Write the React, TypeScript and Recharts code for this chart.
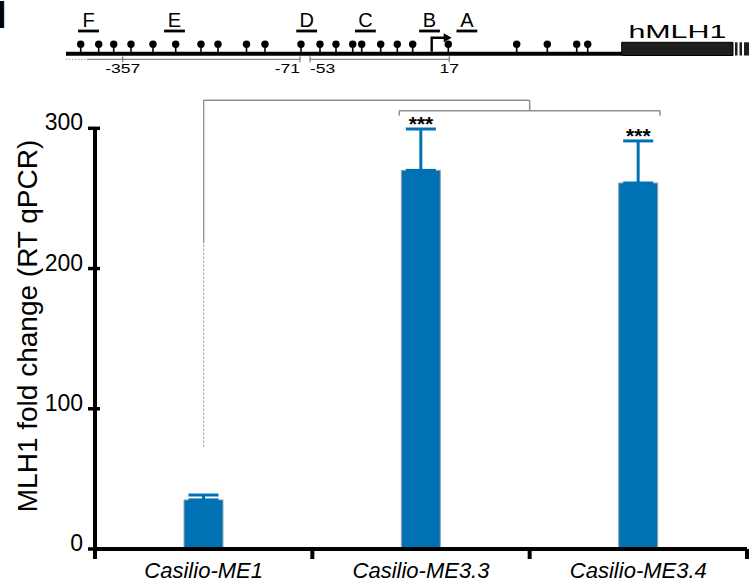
import React from "react";
import {
  BarChart, Bar, XAxis, YAxis, ErrorBar, ReferenceLine, ReferenceDot, ReferenceArea,
  Customized, ScatterChart, Scatter,
} from "recharts";

const FONT = "Arial, 'Liberation Sans', Helvetica, sans-serif";
const BLUE = "#0071B3";
const GRAY = "#8f8f8f";

// --- bar chart values ---
const groups = ["Casilio-ME1", "Casilio-ME3.3", "Casilio-ME3.4"];
const foldChange = [35, 270, 261];
const sem = [3.5, 29.5, 30];
const significance = ["", "***", "***"];
const yTicks = [0, 100, 200, 300];

// comparison brackets, x in category slots (slot i spans i..i+1)
const outerFrom = 0.5;
const outerTo = 2.0;
const outerLevel = 320;
const outerEnd = 313;
const outerSolidTo = 218;
const outerDashTo = 73;
const innerFrom = 1.4;
const innerTo = 2.6;
const innerLevel = 312.6;
const innerEnd = 309;

// --- promoter map (x = place along the drawn map) ---
const cpgSites = [
  80.7, 98.7, 113.7, 131, 153, 175.7, 201, 218, 246.5, 265, 301, 320, 336,
  352.7, 361.7, 380.7, 397.3, 412.7, 448.3, 516.7, 547.3, 576.7, 587.7,
];
const regionNames = ["F", "E", "D", "C", "B", "A"];
const regionPos = [88.5, 174.5, 306.7, 365.4, 429.5, 466.9];
const scaleLabels = ["-357", "-71", "-53", "17"];
const scalePos = [122.7, 300, 310, 449.3];
const scaleAnchor = ["middle", "end", "start", "middle"];
const scaleSegments = [[87, 300], [310, 449.3]];
const mapStart = 66;
const tssPos = 431.7;
const geneName = "hMLH1";
const geneStart = 621.7;
const geneEnd = 733;
const exonStripes = [[735, 737.5], [739.5, 742], [744, 749]];

// layout rows of the map (px from the top)
const Y_LETTER = 27.3;
const Y_HEAD = 44.3;
const Y_LINE = 53.7;
const Y_SCALE = 59.3;
const Y_SCALE_TEXT = 73.3;

const barData = groups.map((g, i) => ({
  group: g,
  slot: i + 0.5,
  value: foldChange[i],
  err: [0, sem[i]],
}));

function CategoryTick(props: any) {
  const { x, y, payload } = props;
  const half = payload.offset ?? 0;
  const idx = props.index ?? payload.index;
  return (
    <g>
      <text x={x} y={y + 29} textAnchor="middle" fontStyle="italic" fontSize={22} fontFamily={FONT} fill="#000">
        {payload.value}
      </text>
      <line x1={x + half} x2={x + half} y1={y} y2={y + 10} stroke="#000" strokeWidth={4} />
      {idx === 0 && <line x1={x - half} x2={x - half} y1={y - 2} y2={y + 10} stroke="#000" strokeWidth={4} />}
    </g>
  );
}

function ValueTick(props: any) {
  const { x, y, payload } = props;
  return (
    <g>
      <line x1={x - 7} x2={x + 5} y1={y} y2={y} stroke="#000" strokeWidth={3.5} />
      <text x={x - 12} y={y + 2} textAnchor="end" fontSize={23} fontFamily={FONT} fill="#000">
        {payload.value}
      </text>
    </g>
  );
}

function PromoterMap() {
  const sites = cpgSites.map((p) => ({ pos: p, y: Y_HEAD }));
  const regions = regionNames.map((n, i) => ({ pos: regionPos[i], y: Y_LETTER, name: n }));
  const scale = scaleLabels.map((l, i) => ({ pos: scalePos[i], y: Y_SCALE_TEXT, name: l, anchor: scaleAnchor[i] }));
  return (
    <ScatterChart width={749} height={90} margin={{ top: 0, right: 0, bottom: 0, left: 0 }}>
      <XAxis type="number" dataKey="pos" domain={[0, 749]} hide allowDataOverflow />
      <YAxis type="number" dataKey="y" domain={[0, 90]} reversed hide allowDataOverflow />
      <Customized
        component={() => (
          <text x={-4} y={28} fontSize={38} fontWeight="bold" fontFamily={FONT} fill="#000">I</text>
        )}
      />
      {/* scale bars under the map */}
      <ReferenceLine segment={[{ x: mapStart, y: Y_SCALE }, { x: scaleSegments[0][0], y: Y_SCALE }]}
        stroke="#999" strokeWidth={1} strokeDasharray="1.5 1.5" ifOverflow="visible" />
      {scaleSegments.map((s, i) => (
        <ReferenceLine key={"s" + i} segment={[{ x: s[0], y: Y_SCALE }, { x: s[1], y: Y_SCALE }]}
          stroke="#888" strokeWidth={1.2} ifOverflow="visible" />
      ))}
      {scalePos.map((p, i) => (
        <ReferenceLine key={"t" + i} segment={[{ x: p, y: Y_SCALE - 3 }, { x: p, y: Y_SCALE + 3 }]}
          stroke="#777" strokeWidth={1.2} ifOverflow="visible" />
      ))}
      {/* promoter line and gene */}
      <ReferenceLine segment={[{ x: mapStart, y: Y_LINE }, { x: geneStart, y: Y_LINE }]}
        stroke="#000" strokeWidth={4} ifOverflow="visible" />
      <ReferenceArea x1={geneStart} x2={geneEnd} y1={42.3} y2={55.5} fill="#1e1e1e" fillOpacity={1} stroke="#000" ifOverflow="visible" />
      {exonStripes.map((e, i) => (
        <ReferenceArea key={"e" + i} x1={e[0]} x2={e[1]} y1={42.3} y2={55.5} fill="#1e1e1e" fillOpacity={1} ifOverflow="visible" />
      ))}
      <ReferenceDot x={(geneStart + geneEnd) / 2} y={37.7} r={0} ifOverflow="visible"
        shape={(p: any) => (
          <text transform={`translate(${p.cx},${p.cy}) scale(1.6,1)`} textAnchor="middle" fontSize={19} fontFamily={FONT} fill="#000">
            {geneName}
          </text>
        )}
      />
      <Scatter data={sites} isAnimationActive={false}
        shape={(p: any) => (
          <g>
            <line x1={p.cx} x2={p.cx} y1={p.cy} y2={p.cy + 8} stroke="#000" strokeWidth={1.6} />
            <circle cx={p.cx} cy={p.cy} r={3.7} fill="#000" />
          </g>
        )}
      />
      <Scatter data={regions} isAnimationActive={false}
        shape={(p: any) => (
          <g>
            <text x={p.cx} y={p.cy} textAnchor="middle" fontSize={20} fontFamily={FONT} fill="#000">{p.payload.name}</text>
            <rect x={p.cx - 10.4} y={p.cy + 2.3} width={20.8} height={2.8} fill="#000" />
          </g>
        )}
      />
      <Scatter data={scale} isAnimationActive={false}
        shape={(p: any) => (
          <text transform={`translate(${p.cx},${p.cy}) scale(1.35,1)`} textAnchor={p.payload.anchor} fontSize={13} fontFamily={FONT} fill="#000">
            {p.payload.name}
          </text>
        )}
      />
      <Scatter data={[{ pos: tssPos, y: Y_LINE }]} isAnimationActive={false}
        shape={(p: any) => (
          <g>
            <path d={`M${p.cx},${p.cy - 2} V${p.cy - 16} H${p.cx + 13}`} fill="none" stroke="#000" strokeWidth={2.4} />
            <path d={`M${p.cx + 12},${p.cy - 20.5} L${p.cx + 20},${p.cy - 16} L${p.cx + 12},${p.cy - 11.5} Z`} fill="#000" />
          </g>
        )}
      />
    </ScatterChart>
  );
}

function FoldChart() {
  return (
    <BarChart width={749} height={495} data={barData} barSize={39}
      margin={{ top: 38.3, right: 2, bottom: 0, left: 0 }}>
      <XAxis dataKey="group" height={36} interval={0} tickSize={0} tickMargin={0} tickLine={false}
        axisLine={{ stroke: "#000", strokeWidth: 4 }} tick={<CategoryTick />} />
      <XAxis xAxisId="slot" dataKey="slot" type="number" domain={[0, 3]} hide allowDataOverflow />
      <YAxis width={95} domain={[0, 300]} ticks={yTicks} interval={0} tickSize={0} tickMargin={0} tickLine={false}
        axisLine={{ stroke: "#000", strokeWidth: 4 }} tick={<ValueTick />} />
      <Customized
        component={() => (
          <text x={36.7} y={236} transform="rotate(-90, 36.7, 236)" textAnchor="middle" fontSize={28} fontFamily={FONT} fill="#000">
            MLH1 fold change (RT qPCR)
          </text>
        )}
      />
      {/* brackets */}
      <ReferenceLine xAxisId="slot" segment={[{ x: outerFrom, y: outerDashTo }, { x: outerFrom, y: outerSolidTo }]}
        stroke={GRAY} strokeWidth={1} strokeDasharray="2 2" ifOverflow="visible" />
      <ReferenceLine xAxisId="slot" segment={[{ x: outerFrom, y: outerSolidTo }, { x: outerFrom, y: outerLevel }]}
        stroke={GRAY} strokeWidth={1.3} ifOverflow="visible" />
      <ReferenceLine xAxisId="slot" segment={[{ x: outerFrom, y: outerLevel }, { x: outerTo, y: outerLevel }]}
        stroke={GRAY} strokeWidth={1.5} ifOverflow="visible" />
      <ReferenceLine xAxisId="slot" segment={[{ x: outerTo, y: outerLevel }, { x: outerTo, y: outerEnd }]}
        stroke={GRAY} strokeWidth={1.5} ifOverflow="visible" />
      <ReferenceLine xAxisId="slot" segment={[{ x: innerFrom, y: innerEnd }, { x: innerFrom, y: innerLevel }]}
        stroke={GRAY} strokeWidth={1.5} ifOverflow="visible" />
      <ReferenceLine xAxisId="slot" segment={[{ x: innerFrom, y: innerLevel }, { x: innerTo, y: innerLevel }]}
        stroke={GRAY} strokeWidth={1.5} ifOverflow="visible" />
      <ReferenceLine xAxisId="slot" segment={[{ x: innerTo, y: innerLevel }, { x: innerTo, y: innerEnd }]}
        stroke={GRAY} strokeWidth={1.5} ifOverflow="visible" />
      <Bar dataKey="value" fill={BLUE} stroke="#9aa3a9" strokeWidth={1} isAnimationActive={false}>
        <ErrorBar dataKey="err" direction="y" width={15} stroke={BLUE} strokeWidth={3} isAnimationActive={false} />
      </Bar>
      {groups.map((g, i) =>
        significance[i] ? (
          <ReferenceDot key={g} x={g} y={foldChange[i] + sem[i]} r={0} ifOverflow="visible"
            shape={(p: any) => (
              <text x={p.cx} y={p.cy + 2} textAnchor="middle" fontSize={21} fontWeight="bold" fontFamily={FONT} fill="#000">
                {significance[i]}
              </text>
            )}
          />
        ) : null
      )}
    </BarChart>
  );
}

export default function App() {
  return (
    <div style={{ position: "absolute", left: 0, top: 0, width: 749, height: 585, background: "#fff", fontFamily: FONT }}>
      <div style={{ position: "absolute", left: 0, top: 0 }}>
        <PromoterMap />
      </div>
      <div style={{ position: "absolute", left: 0, top: 90 }}>
        <FoldChart />
      </div>
    </div>
  );
}
